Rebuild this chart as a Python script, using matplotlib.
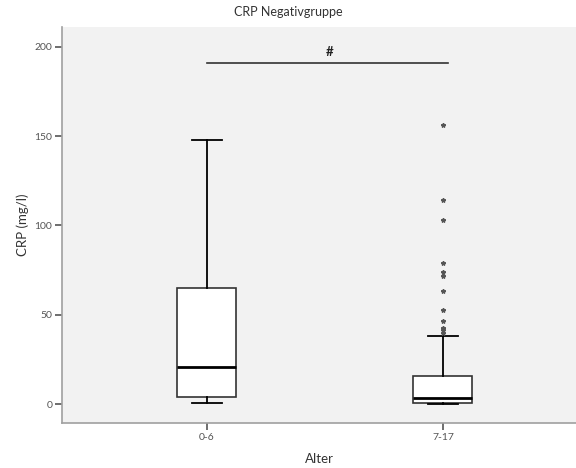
import matplotlib as mpl
mpl.use('Agg')
import matplotlib.pyplot as plt

# age groups and box statistics (CRP in mg/l)
groups = ['0-6', '7-17']
q1 = [4.0, 0.6]
median = [20.7, 3.4]
q3 = [65.0, 15.7]
whisker_low = [0.5, 0.3]
whisker_high = [148.0, 38.0]
outliers_0_6 = []
outliers_7_17 = [156, 114, 103, 79, 74, 71.5, 63, 52.5, 46.5, 42.7, 41.3, 39.8]

sig_level = 191
sig_label = '#'

plt.rcParams['font.family'] = ['Lato', 'DejaVu Sans']

fig = plt.figure(figsize=(5.76, 4.68), dpi=100)
ax = fig.add_axes([0.1076, 0.0962, 0.8924, 0.8461])
ax.set_facecolor('#f2f2f2')

stats = []
for i, name in enumerate(groups):
    stats.append({
        'label': name,
        'q1': q1[i], 'med': median[i], 'q3': q3[i],
        'whislo': whisker_low[i], 'whishi': whisker_high[i],
        'fliers': [outliers_0_6, outliers_7_17][i],
    })

ax.bxp(stats, positions=[1, 2], widths=0.25, patch_artist=True,
       showfliers=True,
       boxprops=dict(facecolor='white', edgecolor='#333333', linewidth=1.2),
       medianprops=dict(color='black', linewidth=2.0),
       whiskerprops=dict(color='black', linewidth=1.3),
       capprops=dict(color='black', linewidth=1.3),
       capwidths=0.127,
       flierprops=dict(marker='*', markersize=3.2, markerfacecolor='#555555',
                       markeredgecolor='#555555', linestyle='none'))

# significance bar
ax.plot([1.0, 2.02], [sig_level, sig_level], color='#333333', lw=1.2)
ax.text(1.52, sig_level + 2.5, sig_label, ha='center', va='bottom',
        fontsize=9.5, fontweight='bold', color='#222222')

ax.set_xlim(0.386, 2.564)
ax.set_ylim(-10.6, 211)
ax.set_yticks([0, 50, 100, 150, 200])

for s in ['top', 'right']:
    ax.spines[s].set_visible(False)
for s in ['left', 'bottom']:
    ax.spines[s].set_color('#a0a0a0')
    ax.spines[s].set_linewidth(1.2)

ax.tick_params(axis='both', direction='out', length=5, width=1.2,
               color='#555555', labelsize=7.5, labelcolor='#555555', pad=2)

ax.set_xlabel('Alter', fontsize=9.5, color='#333333', labelpad=8)
ax.set_ylabel('CRP (mg/l)', fontsize=9.5, color='#333333', labelpad=4)
fig.text(0.5, 0.975, 'CRP Negativgruppe', ha='center', va='center',
         fontsize=9, color='#333333')

plt.savefig('out.png', dpi=100)
